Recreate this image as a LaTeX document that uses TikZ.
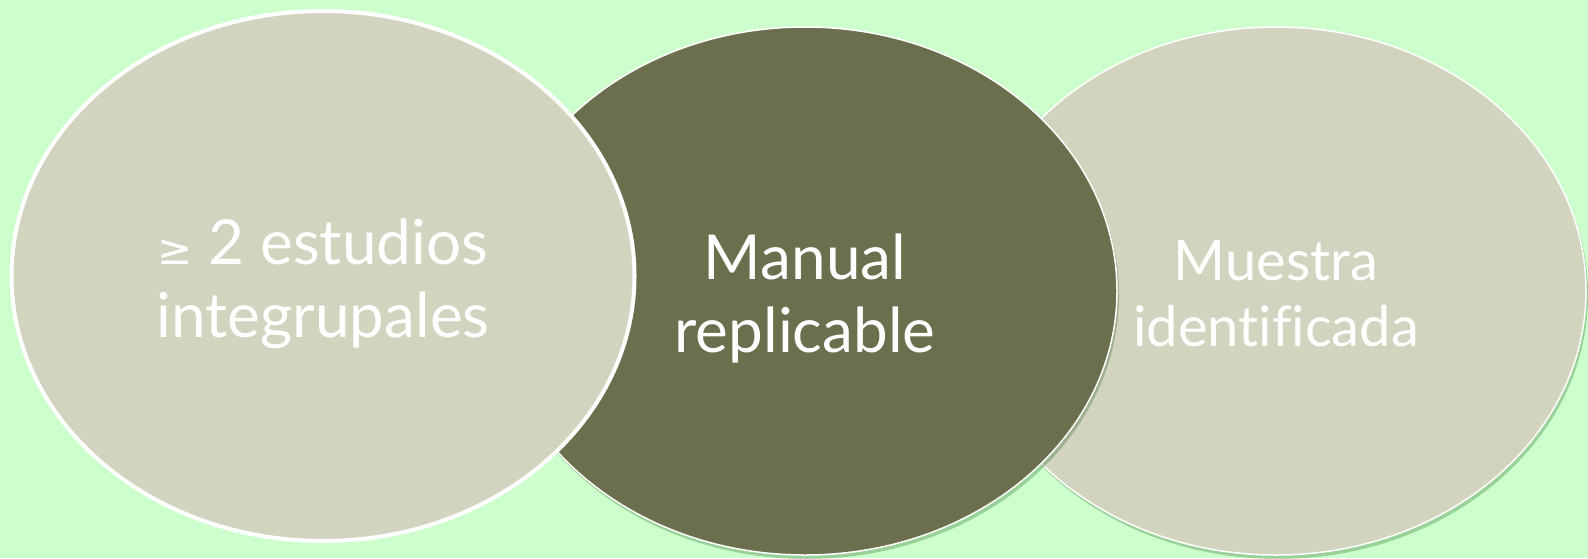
\documentclass[tikz,border=0pt]{standalone}
\usepackage{fontspec}
\setmainfont{Lato}[Ligatures={NoCommon}]
\newfontfamily\symf{DejaVu Sans}
\usetikzlibrary{shapes.geometric,shadows}
\definecolor{bgc}{HTML}{CCFFCC}
\definecolor{lightc}{HTML}{D3D4C0}
\definecolor{darkc}{HTML}{6B6F4D}
\tikzset{
  blob/.style={ellipse, inner sep=0pt, draw=white},
  shad/.style={drop shadow={shadow xshift=2pt, shadow yshift=-4pt, fill=black!70!green, opacity=0.25}},
  txt/.style={text=white, align=center, inner sep=0pt},
  bigtxt/.style={font=\fontsize{62}{73}\selectfont},
  smalltxt/.style={font=\fontsize{56}{66}\selectfont}
}
\begin{document}
\begin{tikzpicture}[x=1pt,y=-1pt]
\fill[bgc] (0,0) rectangle (1588,558);
\useasboundingbox (0,0) rectangle (1588,558);
\node[blob, shad, fill=lightc, line width=1.5pt, minimum width=620pt, minimum height=528pt] (c) at (1276,291) {};
\node[blob, shad, fill=darkc, line width=1.5pt, minimum width=624pt, minimum height=528pt] (b) at (805,291) {};
\node[blob, fill=lightc, line width=4pt, minimum width=623pt, minimum height=530pt] (a) at (323,276) {};
\node[txt, bigtxt] (ta) at ([yshift=-8pt]a.center) {{\symf\fontsize{42}{42}\selectfont ≥} 2 estudios\\integrupales};
\node[txt, bigtxt] (tb) at ([yshift=-7pt]b.center) {Manual\\replicable};
\node[txt, smalltxt] (tc) at ([yshift=-3pt]c.center) {Muestra\\identificada};
\end{tikzpicture}
\end{document}
